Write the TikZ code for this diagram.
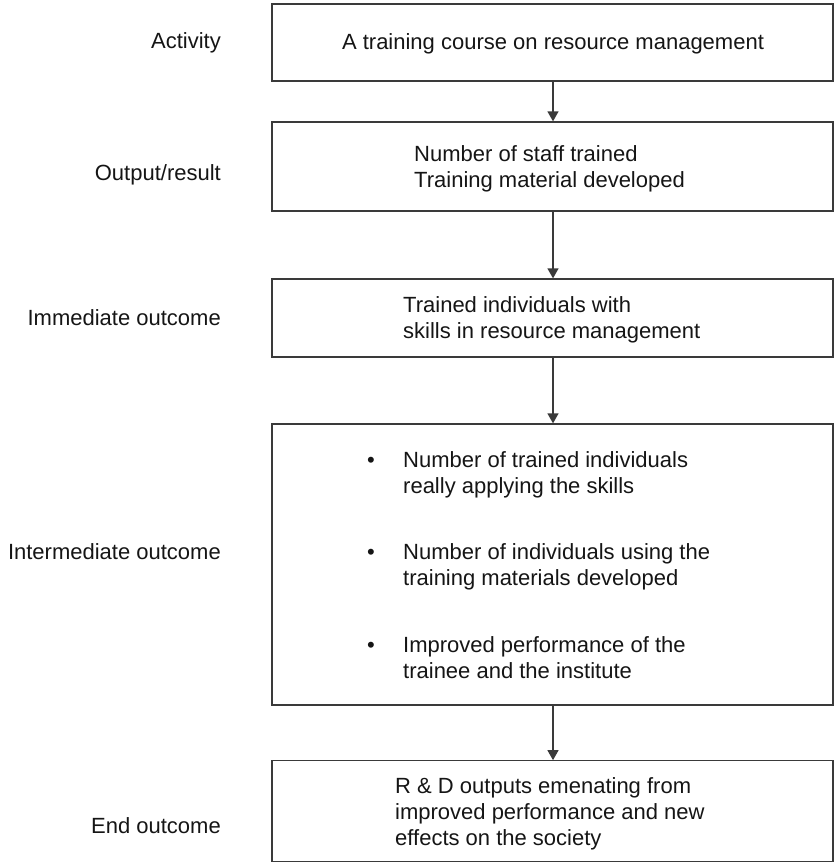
\documentclass[tikz,border=0pt]{standalone}
\usepackage{fontspec}
\setmainfont{Liberation Sans}
\usetikzlibrary{arrows.meta}
\definecolor{linegray}{HTML}{3A3A3A}
\definecolor{txt}{HTML}{151515}
\begin{document}
\begin{tikzpicture}[x=1pt,y=-1pt,
  box/.style={draw=linegray,line width=1.3pt,minimum width=561pt,inner sep=0pt,anchor=center},
  txtnode/.style={inner sep=0pt,align=left,text=txt,font=\fontsize{22}{26}\selectfont,anchor=base west},
  lab/.style={inner sep=0pt,text=txt,font=\fontsize{22}{26}\selectfont,anchor=base east},
  flow/.style={draw=linegray,line width=1.3pt,-{Triangle[width=11pt,length=10pt]}}]
\useasboundingbox (0,0) rectangle (834,863);
% boxes
\node[box,minimum height=77pt]  (b1) at (552.4,42.5) {};
\node[box,minimum height=89pt]  (b2) at (552.4,166.5) {};
\node[box,minimum height=78pt]  (b3) at (552.4,318) {};
\node[box,minimum height=281pt] (b4) at (552.4,564.5) {};
\node[box,minimum height=101pt] (b5) at (552.4,811.3) {};
% texts (anchor = baseline of the last line)
\node[txtnode,anchor=base] (t1) at (553,49) {A training course on resource management};
\node[txtnode] (t2) at (414,187) {Number of staff trained\\Training material developed};
\node[txtnode] (t3) at (403,338) {Trained individuals with\\skills in resource management};
\node[txtnode] (p1) at (367,467) {•};
\node[txtnode] (t4a) at (403,493) {Number of trained individuals\\really applying the skills};
\node[txtnode] (p2) at (367,559) {•};
\node[txtnode] (t4b) at (403,585) {Number of individuals using the\\training materials developed};
\node[txtnode] (p3) at (367,652) {•};
\node[txtnode] (t4c) at (403,678) {Improved performance of the\\trainee and the institute};
\node[txtnode] (t5) at (395,845) {R \& D outputs emenating from\\improved performance and new\\effects on the society};
% labels
\node[lab] (l1) at (221,48) {Activity};
\node[lab] (l2) at (221,180) {Output/result};
\node[lab] (l3) at (221,325) {Immediate outcome};
\node[lab] (l4) at (221,559) {Intermediate outcome};
\node[lab] (l5) at (221,833) {End outcome};
% connectors
\draw[flow] (b1.south -| 553,0) -- (b2.north -| 553,0);
\draw[flow] (b2.south -| 553,0) -- (b3.north -| 553,0);
\draw[flow] (b3.south -| 553,0) -- (b4.north -| 553,0);
\draw[flow] (b4.south -| 553,0) -- (b5.north -| 553,0);
\end{tikzpicture}
\end{document}
